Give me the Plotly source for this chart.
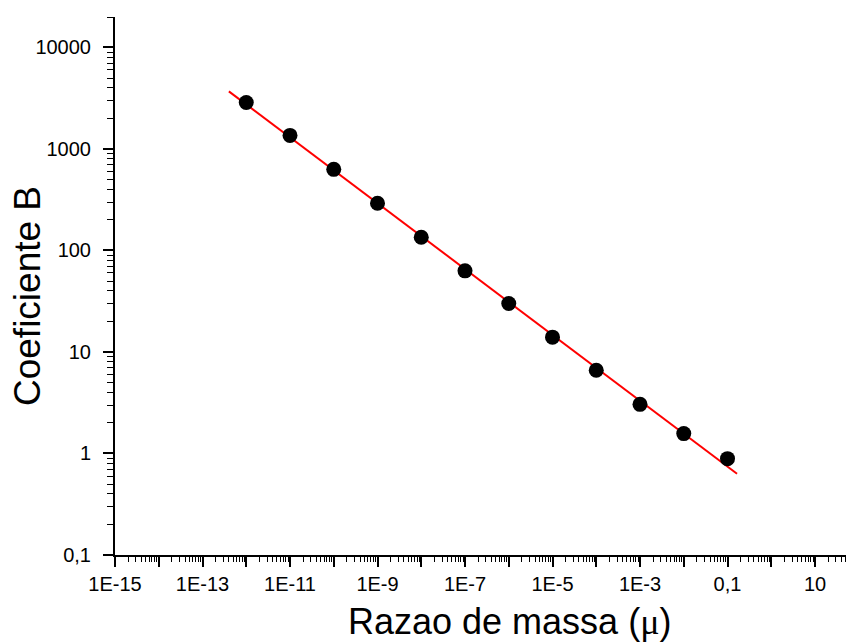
import numpy as np
import plotly.graph_objects as go

# Data
mass_ratio = [1e-12, 1e-11, 1e-10, 1e-9, 1e-8, 1e-7, 1e-6, 1e-5, 1e-4, 1e-3, 1e-2, 1e-1]
coef_b = [2870, 1360, 630, 292, 135, 63, 30, 14.0, 6.6, 3.05, 1.57, 0.89]
fit_range = [4.0e-13, 0.165]

x_major = [10.0 ** k for k in range(-15, 2)]
x_labels = ["1E-15", "", "1E-13", "", "1E-11", "", "1E-9", "", "1E-7", "", "1E-5", "",
            "1E-3", "", "0,1", "", "10"]
y_major = [0.1, 1, 10, 100, 1000, 10000]
y_labels = ["0,1", "1", "10", "100", "1000", "10000"]

x_range = [-15, 1.8]
y_range = [-1, 4.3]

x_minor = [m * 10.0 ** k for k in range(-15, 2) for m in range(2, 10)]
y_minor = [m * 10.0 ** k for k in range(-1, 5) for m in range(2, 10)] + [10 ** y_range[1]]

# linear fit in log-log space
lx = np.log10(mass_ratio)
ly = np.log10(coef_b)
slope, intercept = np.polyfit(lx, ly, 1)
fx = np.array(fit_range)
fy = 10 ** (intercept + slope * np.log10(fx))

fig = go.Figure()
fig.add_trace(go.Scatter(x=fx, y=fy, mode="lines",
                         line=dict(color="#ff0000", width=2), showlegend=False))
fig.add_trace(go.Scatter(x=mass_ratio, y=coef_b, mode="markers",
                         marker=dict(color="black", size=15), showlegend=False))

axis_common = dict(
    showgrid=False, zeroline=False, showline=True, linecolor="black", linewidth=2,
    ticks="outside", ticklen=10, tickwidth=1.5, tickcolor="black",
    tickfont=dict(family="Liberation Sans, Arial, sans-serif", size=20, color="black"),
    mirror=False, automargin=False,
)

fig.update_layout(
    width=846, height=636,
    margin=dict(l=107, r=4, t=9, b=89),
    paper_bgcolor="white", plot_bgcolor="white",
    font=dict(family="Liberation Sans, Arial, sans-serif", color="black"),
    xaxis=dict(type="log", range=x_range, tickvals=x_major, ticktext=x_labels,
               minor=dict(tickvals=x_minor, ticklen=5, tickwidth=1.2, tickcolor="black", ticks="outside"),
               **axis_common),
    yaxis=dict(type="log", range=y_range, tickvals=y_major, ticktext=y_labels,
               minor=dict(tickvals=y_minor, ticklen=6, tickwidth=1.2, tickcolor="black", ticks="outside"),
               ticklabelstandoff=8,
               **axis_common),
    annotations=[
        dict(text='Razao de massa (<span style="font-family:Liberation Serif">μ</span>)',
             xref="paper", yref="paper", x=0.537, y=-0.123, xanchor="center", yanchor="middle",
             showarrow=False, font=dict(size=36, color="black")),
        dict(text="Coeficiente B", xref="paper", yref="paper", x=-0.12, y=0.481,
             xanchor="center", yanchor="middle", textangle=-90,
             showarrow=False, font=dict(size=37, color="black")),
    ],
)

fig.write_html("out.html")
